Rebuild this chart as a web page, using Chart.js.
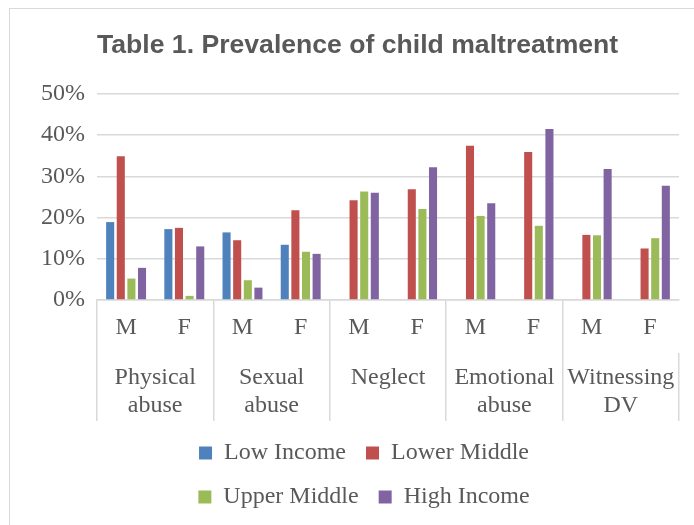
<!DOCTYPE html>
<html>
<head>
<meta charset="utf-8">
<script src="https://cdn.jsdelivr.net/npm/chart.js@4/dist/chart.umd.min.js"></script>
<style>
  body { margin: 0; background: #fff; }
  #wrap { position: relative; width: 694px; height: 525px; overflow: hidden; }
  #frame { position: absolute; left: 9px; top: 8px; width: 800px; height: 600px;
           border: 1.5px solid #d9d9d9; pointer-events: none; }
</style>
</head>
<body>
<div id="wrap">
  <canvas id="myChart" width="694" height="525"></canvas>
  <div id="frame"></div>
</div>
<script>
// sub categories (sex) and the abuse type groups under them
const sexLabels = ["M", "F", "M", "F", "M", "F", "M", "F", "M", "F"]
const groupLabels = [["Physical", "abuse"], ["Sexual", "abuse"], "Neglect", ["Emotional", "abuse"], ["Witnessing", "DV"]]
const seriesNames = ["Low Income", "Lower Middle", "Upper Middle", "High Income"]

// prevalence in %
const lowIncome = [18.9, 17.2, 16.4, 13.4, null, null, null, null, null, null]
const lowerMiddle = [34.9, 17.5, 14.5, 21.8, 24.2, 26.9, 37.4, 35.9, 15.8, 12.5]
const upperMiddle = [5.2, 1.0, 4.8, 11.7, 26.3, 22.1, 20.4, 18.0, 15.7, 15.0]
const highIncome = [7.8, 13.0, 3.0, 11.2, 26.0, 32.2, 23.5, 41.5, 31.8, 27.7]

const yTicks = [0, 10, 20, 30, 40, 50]

const colors = ["#4f81bd", "#c0504d", "#9bbb59", "#8064a2"]
const gridColor = "#d9d9d9"
const textColor = "#595959"
const serif = "'Liberation Serif', 'Times New Roman', serif"

const values = [lowIncome, lowerMiddle, upperMiddle, highIncome]
const datasets = values.map((data, i) => ({
	label: seriesNames[i],
	data: data,
	backgroundColor: colors[i],
	borderWidth: 0,
	categoryPercentage: 0.73,
	barPercentage: 0.76
}))

new Chart("myChart", {
	type: "bar",
	data: {
		labels: sexLabels,
		datasets: datasets
	},
	options: {
		responsive: false,
		animation: false,
		layout: {
			padding: { left: 29, right: 15, top: 0, bottom: 6 }
		},
		plugins: {
			title: {
				display: true,
				text: "Table 1. Prevalence of child maltreatment",
				align: "start",
				fullSize: false,
				color: textColor,
				font: { family: "'Liberation Sans', Arial, sans-serif", size: 26.6, weight: "bold" },
				padding: { top: 30, bottom: 32 }
			},
			legend: {
				position: "bottom",
				fullSize: false,
				labels: {
					color: textColor,
					font: { family: serif, size: 24 },
					boxWidth: 13,
					boxHeight: 13,
					padding: 20,
					// pad the second item of each row so the legend wraps two per line
					generateLabels: (chart) => {
						const items = Chart.defaults.plugins.legend.labels.generateLabels(chart)
						items.forEach((item, i) => {
							if (i % 2 === 1) item.text = item.text + "        "
						})
						return items
					}
				}
			},
			tooltip: { enabled: false }
		},
		scales: {
			x: {
				weight: 0,
				offset: true,
				grid: {
					offset: true,
					drawOnChartArea: false,
					tickLength: 53,
					lineWidth: 1.5,
					color: (ctx) => ctx.index % 2 === 0 ? gridColor : "rgba(0,0,0,0)"
				},
				border: { display: true, color: gridColor, width: 1.5 },
				ticks: {
					color: textColor,
					font: { family: serif, size: 24, lineHeight: 1.15 },
					padding: -39,
					maxRotation: 0,
					autoSkip: false
				},
				afterFit: (scale) => { scale.height = 53 }
			},
			x2: {
				type: "category",
				position: "bottom",
				weight: 1,
				labels: groupLabels,
				offset: true,
				grid: {
					offset: true,
					drawOnChartArea: false,
					tickLength: 68,
					lineWidth: 1.5,
					color: gridColor
				},
				border: { display: false },
				ticks: {
					color: textColor,
					font: { family: serif, size: 24, lineHeight: 1.15 },
					padding: -57,
					maxRotation: 0,
					autoSkip: false
				},
				afterFit: (scale) => { scale.height = 68 }
			},
			y: {
				min: 0,
				max: 50,
				afterBuildTicks: (scale) => { scale.ticks = yTicks.map(v => ({ value: v })) },
				grid: { color: gridColor, lineWidth: 1.5, drawTicks: false },
				border: { display: false },
				ticks: {
					color: textColor,
					font: { family: serif, size: 24 },
					padding: 12,
					callback: (v) => v + "%"
				}
			}
		}
	}
})
</script>
</body>
</html>
